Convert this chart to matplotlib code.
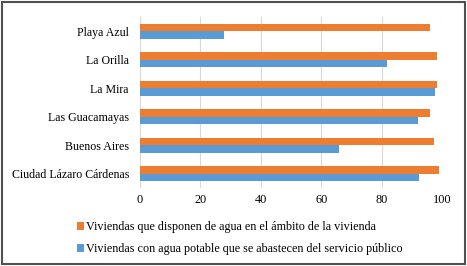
import matplotlib
matplotlib.use('Agg')
import matplotlib.pyplot as plt
import numpy as np
from matplotlib.patches import Rectangle

# 數據（由下而上）
localidades = ['Ciudad Lázaro Cárdenas', 'Buenos Aires', 'Las Guacamayas',
               'La Mira', 'La Orilla', 'Playa Azul']
agua_vivienda = [98.9, 97.4, 96.0, 98.4, 98.4, 95.8]
agua_publica = [92.2, 65.7, 91.8, 97.7, 81.7, 27.8]
xticks = [0, 20, 40, 60, 80, 100]

label_naranja = 'Viviendas que disponen de agua en el ámbito de la vivienda'
label_azul = 'Viviendas con agua potable que se abastecen del servicio público'

plt.rcParams['font.family'] = ['Liberation Serif', 'DejaVu Serif']

fig = plt.figure(figsize=(4.67, 2.66), dpi=100)
ax = fig.add_axes([140 / 467, 78 / 266, 302.3 / 467, 171 / 266])

y = np.arange(len(localidades))
h = 0.27
ax.barh(y + h / 2, agua_vivienda, height=h, color='#ED7D31', label=label_naranja, zorder=3)
ax.barh(y - h / 2, agua_publica, height=h, color='#5B9BD5', label=label_azul, zorder=3)

ax.set_xlim(0, 100)
ax.set_ylim(-0.5, len(localidades) - 0.5)
ax.set_xticks(xticks)
ax.set_yticks(y)
ax.set_yticklabels(localidades, fontsize=8.6)
ax.tick_params(axis='x', labelsize=8.8, length=0, pad=4)
ax.tick_params(axis='y', length=0, pad=8)
ax.grid(True, axis='x', color='#D9D9D9', linewidth=0.8, zorder=0)
for s in ax.spines.values():
    s.set_visible(False)

leg = ax.legend(loc='upper left', bbox_to_anchor=(71 / 467, 1 - 215 / 266),
                bbox_transform=fig.transFigure, frameon=False, fontsize=8.7,
                handlelength=0.6, handleheight=0.6, handletextpad=0.1,
                labelspacing=0.85, borderpad=0)

# 外框
fig.patches.append(Rectangle((2 / 467, 2 / 266), 463 / 467, 262 / 266,
                             transform=fig.transFigure, fill=False,
                             edgecolor='#505050', linewidth=1.5))

plt.savefig('out.png', dpi=100)
plt.close()
